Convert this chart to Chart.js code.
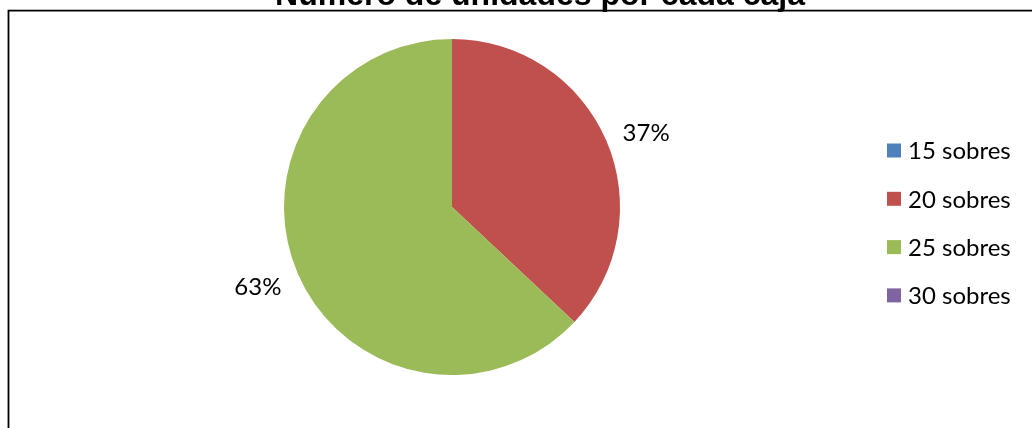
<!DOCTYPE html>
<html>
<head>
<meta charset="utf-8">
<script src="https://cdn.jsdelivr.net/npm/chart.js@4.4.1/dist/chart.umd.min.js"></script>
<style>
  html, body { margin: 0; padding: 0; background: #fff; }
  #wrap { position: relative; width: 1032px; height: 428px; }
</style>
</head>
<body>
<div id="wrap"><canvas id="cajasPie" width="1032" height="428"></canvas></div>
<script>
// --- data ---
const chartTitle = 'Número de unidades por cada caja';
const categories = ['15 sobres', '20 sobres', '25 sobres', '30 sobres'];
const percentValues = [0, 37, 63, 0];
const sliceColors = ['#4F81BD', '#C0504D', '#9BBB59', '#8064A2'];

const labelFont = '24px Lato, "Open Sans", sans-serif';

// frame, title, percent labels and legend drawn on top of the pie
const decorations = {
    id: 'decorations',
    afterDraw(chart) {
        const ctx = chart.ctx;
        ctx.save();

        // outer frame (runs off the right and bottom edges)
        ctx.strokeStyle = '#000';
        ctx.lineWidth = 1.8;
        ctx.strokeRect(8.5, 10.6, 1100, 500);

        // title, clipped at the top
        ctx.fillStyle = '#000';
        ctx.font = 'bold 32px "Liberation Sans", Arial, sans-serif';
        ctx.textAlign = 'center';
        ctx.textBaseline = 'alphabetic';
        ctx.fillText(chartTitle, 540, 4.5);

        // percent labels outside each non-empty slice
        const meta = chart.getDatasetMeta(0);
        const values = chart.data.datasets[0].data;
        const total = values.reduce((a, b) => a + b, 0);
        ctx.font = labelFont;
        ctx.textBaseline = 'middle';
        meta.data.forEach(function(arc, i) {
            if (!values[i]) return;
            const mid = (arc.startAngle + arc.endAngle) / 2;
            const dx = Math.cos(mid), dy = Math.sin(mid);
            const text = Math.round(values[i] / total * 100) + '%';
            const w = ctx.measureText(text).width;
            const r = arc.outerRadius + 20;
            const x = arc.x + dx * r + dx * w / 2;
            const y = arc.y + dy * r + dy * 6 + 3;
            ctx.fillText(text, x, y);
        });

        // legend on the right
        ctx.textAlign = 'left';
        chart.data.labels.forEach(function(label, i) {
            const cy = 150.5 + i * 48.3;
            ctx.fillStyle = sliceColors[i];
            ctx.fillRect(887, cy - 7, 14, 14);
            ctx.fillStyle = '#000';
            ctx.fillText(label, 908, cy + 1);
        });

        ctx.restore();
    }
};

new Chart(document.getElementById('cajasPie').getContext('2d'), {
    type: 'pie',
    data: {
        labels: categories,
        datasets: [{
            data: percentValues,
            backgroundColor: sliceColors,
            borderWidth: 0
        }]
    },
    options: {
        responsive: false,
        animation: false,
        layout: { padding: { left: 284, right: 412, top: 39, bottom: 53 } },
        plugins: {
            legend: { display: false },
            title: { display: false },
            tooltip: { enabled: false }
        }
    },
    plugins: [decorations]
});
</script>
</body>
</html>
